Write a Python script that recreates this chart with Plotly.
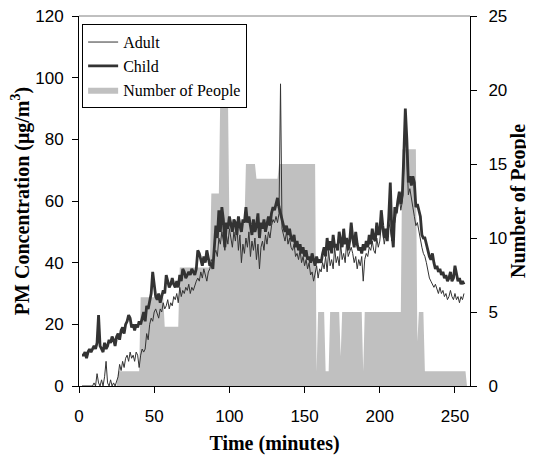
import plotly.graph_objects as go

# ---- data ----
minutes = list(range(2, 257))

child_pm = [
    10, 10, 11, 9, 11, 12, 11, 12, 13, 12,
    14, 23, 13, 12, 11, 14, 12, 13, 15, 14,
    16, 15, 13, 16, 17, 15, 18, 19, 17, 20,
    21, 23, 22, 19, 20, 18, 20, 19, 21, 20,
    22, 24, 21, 26, 25, 27, 30, 37, 33, 29,
    28, 30, 27, 29, 31, 30, 36, 34, 32, 33,
    35, 33, 32, 34, 32, 36, 34, 38, 37, 35,
    36, 37, 36, 38, 37, 36, 38, 44, 43, 41,
    39, 42, 40, 44, 41, 39, 40, 38, 45, 52,
    48, 57, 50, 58, 54, 45, 53, 51, 55, 52,
    50, 54, 53, 49, 55, 52, 50, 54, 53, 58,
    53, 55, 51, 49, 54, 50, 52, 56, 48, 53,
    51, 54, 50, 53, 55, 52, 56, 58, 57, 59,
    61, 58, 56, 54, 53, 50, 52, 49, 51, 48,
    47, 49, 45, 47, 44, 46, 43, 45, 42, 44,
    41, 42, 40, 43, 41, 39, 42, 40, 41, 40,
    43, 45, 42, 48, 44, 47, 43, 49, 45, 46,
    44, 50, 47, 45, 51, 46, 48, 44, 47, 53,
    48, 45, 50, 46, 44, 45, 43, 46, 44, 47,
    45, 49, 46, 51, 48, 47, 53, 49, 50, 57,
    52, 48, 51, 47, 55, 66, 50, 45, 58, 56,
    60, 63, 59, 62, 75, 90, 80, 66, 68, 65,
    68, 66, 58, 59, 57, 55, 49, 48, 48, 46,
    43, 42, 41, 43, 40, 38, 39, 37, 38, 36,
    37, 35, 36, 34, 35, 37, 34, 35, 39, 36,
    34, 35, 33, 34, 33,
]

adult_pm = [
    0, 0, 0, 0, 0, 0, 0, 0, 1, 0,
    4, 1, 0, 2, 0, 3, 8, 1, 0, 2,
    0, 1, 0, 2, 3, 7, 5, 8, 6, 9,
    10, 8, 11, 9, 10, 8, 11, 10, 6, 10,
    12, 11, 12, 17, 15, 20, 22, 21, 24, 25,
    23, 22, 25, 24, 27, 25, 26, 28, 25, 27,
    26, 29, 28, 30, 27, 32, 29, 31, 30, 32,
    31, 33, 30, 32, 31, 33, 34, 35, 34, 37,
    35, 38, 36, 34, 37, 38, 41, 40, 43, 44,
    42, 48, 46, 50, 47, 44, 49, 46, 51, 48,
    45, 50, 47, 52, 44, 49, 40, 46, 43, 48,
    45, 50, 42, 47, 44, 48, 41, 46, 38, 45,
    47, 44, 49, 46, 50, 48, 52, 54, 53, 55,
    53, 56, 98, 51, 49, 47, 50, 46, 48, 45,
    44, 46, 42, 43, 41, 44, 40, 42, 39, 41,
    38, 40, 36, 37, 34, 36, 39, 35, 38, 37,
    40, 38, 42, 37, 44, 39, 41, 38, 45, 40,
    42, 39, 46, 41, 43, 40, 47, 42, 44, 45,
    43, 40, 42, 38, 41, 39, 42, 34, 41, 43,
    42, 45, 44, 47, 44, 43, 48, 45, 47, 52,
    50, 46, 49, 51, 53, 51, 47, 52, 53, 56,
    58, 61, 57, 60, 70, 82, 75, 62, 64, 60,
    58, 55, 52, 53, 50, 47, 45, 43, 42, 40,
    37, 35, 34, 33, 32, 33, 31, 30, 32, 30,
    31, 29, 30, 28, 29, 31, 29, 28, 30, 28,
    29, 27, 29, 28, 30,
]

people_time = [25, 26, 40, 41, 56, 57, 66, 67, 87, 88, 93, 94, 99, 100, 110, 111,
               117, 118, 132, 133, 157, 158, 159, 163, 164, 166, 167, 173, 174, 175,
               188, 189, 190, 214, 215, 224, 225, 226, 229, 230, 257, 258]
people_count = [0, 1, 1, 6, 6, 4, 4, 8, 8, 13, 13, 20, 20, 11, 11, 15,
                15, 14, 14, 15, 15, 1, 5, 5, 1, 1, 5, 5, 2, 5,
                5, 1, 5, 5, 16, 16, 3, 5, 5, 1, 1, 0]

x_ticks = [0, 50, 100, 150, 200, 250]
pm_ticks = [0, 20, 40, 60, 80, 100, 120]
people_ticks = [0, 5, 10, 15, 20, 25]

LINE = "#333333"
SERIF = "Liberation Serif, Times New Roman, serif"
SANS = "Liberation Sans, Arial, sans-serif"

fig = go.Figure()
fig.add_trace(go.Scatter(
    x=people_time, y=people_count, name="Number of People", mode="lines",
    fill="tozeroy", fillcolor="#C0C0C0", line=dict(width=0, color="#C0C0C0"),
    yaxis="y", legendrank=3, hoverinfo="skip"))
fig.add_trace(go.Scatter(
    x=minutes, y=adult_pm, name="Adult", mode="lines",
    line=dict(color=LINE, width=1), yaxis="y2", legendrank=1))
fig.add_trace(go.Scatter(
    x=minutes, y=child_pm, name="Child", mode="lines",
    line=dict(color=LINE, width=2.8), yaxis="y2", legendrank=2))

axis_common = dict(showline=True, linecolor="black", linewidth=1, ticks="outside",
                   ticklen=6, tickcolor="black", showgrid=False, zeroline=False,
                   automargin=False, ticklabeloverflow="allow",
                   tickfont=dict(family=SANS, size=17, color="black"))

# the page body adds an 8px offset, so the figure is sized/margined accordingly
fig.update_layout(
    width=526, height=449,
    margin=dict(l=71, r=64, t=8, b=71),
    paper_bgcolor="white", plot_bgcolor="white",
    showlegend=True,
    legend=dict(x=0.008, y=0.978, xanchor="left", yanchor="top",
                bordercolor="black", borderwidth=1, bgcolor="white",
                font=dict(family=SERIF, size=16, color="black"),
                tracegroupgap=0, itemwidth=30),
    xaxis=dict(range=[0, 260], tickvals=x_ticks, ticklabelstandoff=9,
               title=dict(text="<b>Time (minutes)</b>", standoff=10,
                          font=dict(family=SERIF, size=20, color="black")),
               **axis_common),
    yaxis=dict(range=[0, 25], tickvals=people_ticks, side="right", ticklabelstandoff=8,
               title=dict(text="<b>Number of People</b>", standoff=1,
                          font=dict(family=SERIF, size=20, color="black")),
               **axis_common),
    yaxis2=dict(range=[0, 120], tickvals=pm_ticks, side="left", overlaying="y",
                ticklabelstandoff=5,
                title=dict(text="<b>PM Concentration (μg/m<sup>3</sup>)</b>", standoff=0,
                           font=dict(family=SERIF, size=20, color="black")),
                **axis_common),
    shapes=[dict(type="line", xref="paper", yref="paper", x0=0, x1=1, y0=1, y1=1,
                 line=dict(color="#808080", width=1))],
)

fig.write_html("out.html")
